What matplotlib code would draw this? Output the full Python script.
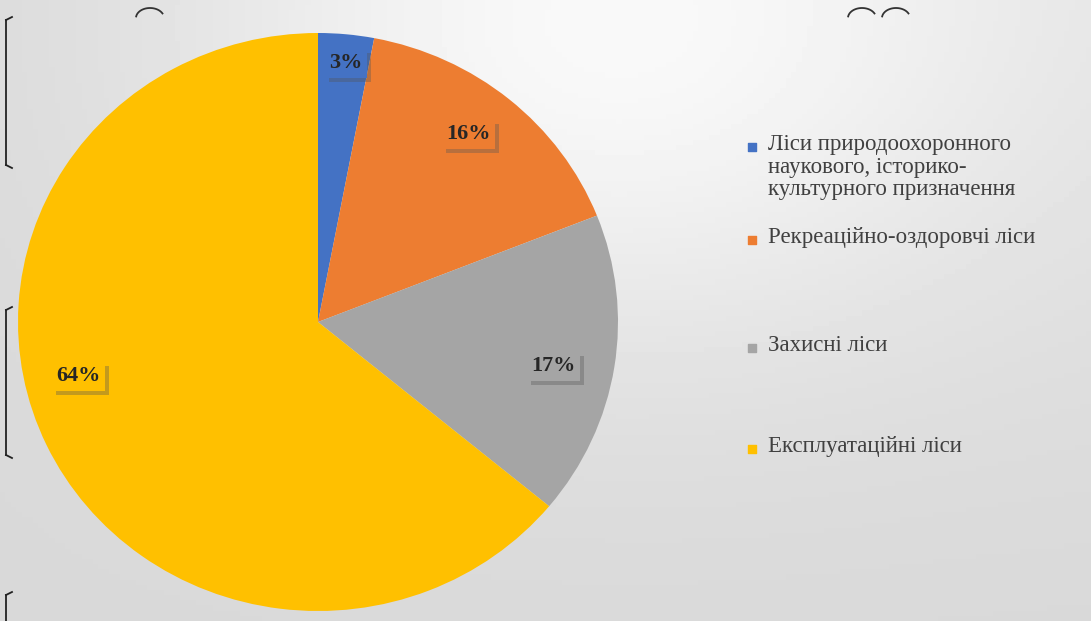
import numpy as np
import matplotlib
matplotlib.use('Agg')
import matplotlib.pyplot as plt
from matplotlib import patheffects

# data
categories = ['Ліси природоохоронного\nнаукового, історико-\nкультурного призначення',
              'Рекреаційно-оздоровчі ліси',
              'Захисні ліси',
              'Експлуатаційні ліси']
shares = [3, 16, 17, 64]
colors = ['#4472C4', '#ED7D31', '#A5A5A5', '#FFC000']

# label layout (radius, angle shift in degrees)
lab_r = [0.90, 0.82, 0.80, 0.82]
lab_shift = [-0.5, 2.0, -2.0, -12.0]

W, H = 1091, 621
fig = plt.figure(figsize=(W / 100, H / 100), dpi=100)

# background
bg = fig.add_axes([0, 0, 1, 1])
xx, yy = np.meshgrid(np.linspace(0, 1, 200), np.linspace(0, 1, 120))
grad = 0.85 + 0.11 * np.exp(-((xx - 0.55) ** 2) / 0.15 - ((yy - 0.05) ** 2) / 0.25)
grad = grad + 0.03 * xx * (1 - yy)
bg.imshow(np.clip(grad, 0, 1), cmap='gray', vmin=0, vmax=1, aspect='auto',
          extent=[0, W, H, 0])
bg.set_xlim(0, W)
bg.set_ylim(H, 0)
bg.axis('off')

# slide bracket artifacts at the left edge
for y0, y1 in [(20, 165), (310, 455), (595, 640)]:
    bg.plot([6, 6], [y0, y1], color='#222222', lw=1.3)
    bg.plot([6, 12], [y0, y0 - 3], color='#222222', lw=1.3)
    bg.plot([6, 12], [y1, y1 + 3], color='#222222', lw=1.3)
t = np.linspace(0.15 * np.pi, 0.95 * np.pi, 30)
for cx in [150, 862, 896]:
    bg.plot(cx + 14 * np.cos(t), 18 - 10 * np.sin(t), color='#333333', lw=1.3)

# pie
cx, cy, rx, ry = 318, 322, 300, 289
ax = fig.add_axes([(cx - rx) / W, (H - cy - ry) / H, 2 * rx / W, 2 * ry / H])
wedges, _ = ax.pie(shares, colors=colors, startangle=90, counterclock=False,
                   wedgeprops=dict(linewidth=0))
ax.set_aspect('auto')
ax.set_xlim(-1, 1)
ax.set_ylim(-1, 1)

for w, v, r, s in zip(wedges, shares, lab_r, lab_shift):
    ang = np.deg2rad((w.theta1 + w.theta2) / 2 + s)
    txt = ax.text(r * np.cos(ang), r * np.sin(ang), f'{v}%', ha='center', va='center',
                  fontsize=16, fontweight='bold', family='Liberation Serif',
                  color='#262626',
                  bbox=dict(boxstyle='square,pad=0.2', fc=w.get_facecolor(), ec='none'))
    txt.get_bbox_patch().set_path_effects([
        patheffects.SimplePatchShadow(offset=(3, -3), shadow_rgbFace='#555555', alpha=0.35),
        patheffects.Normal()])

# legend
leg_y = [147, 240, 348, 449]
for c, lab, y in zip(colors, categories, leg_y):
    bg.scatter([752], [y], marker='s', s=40, color=c)
    bg.text(768, y - 13, lab, ha='left', va='top', fontsize=16.5,
            family='Liberation Serif', color='#404040', linespacing=1.1)

fig.savefig('out.png', dpi=100)
